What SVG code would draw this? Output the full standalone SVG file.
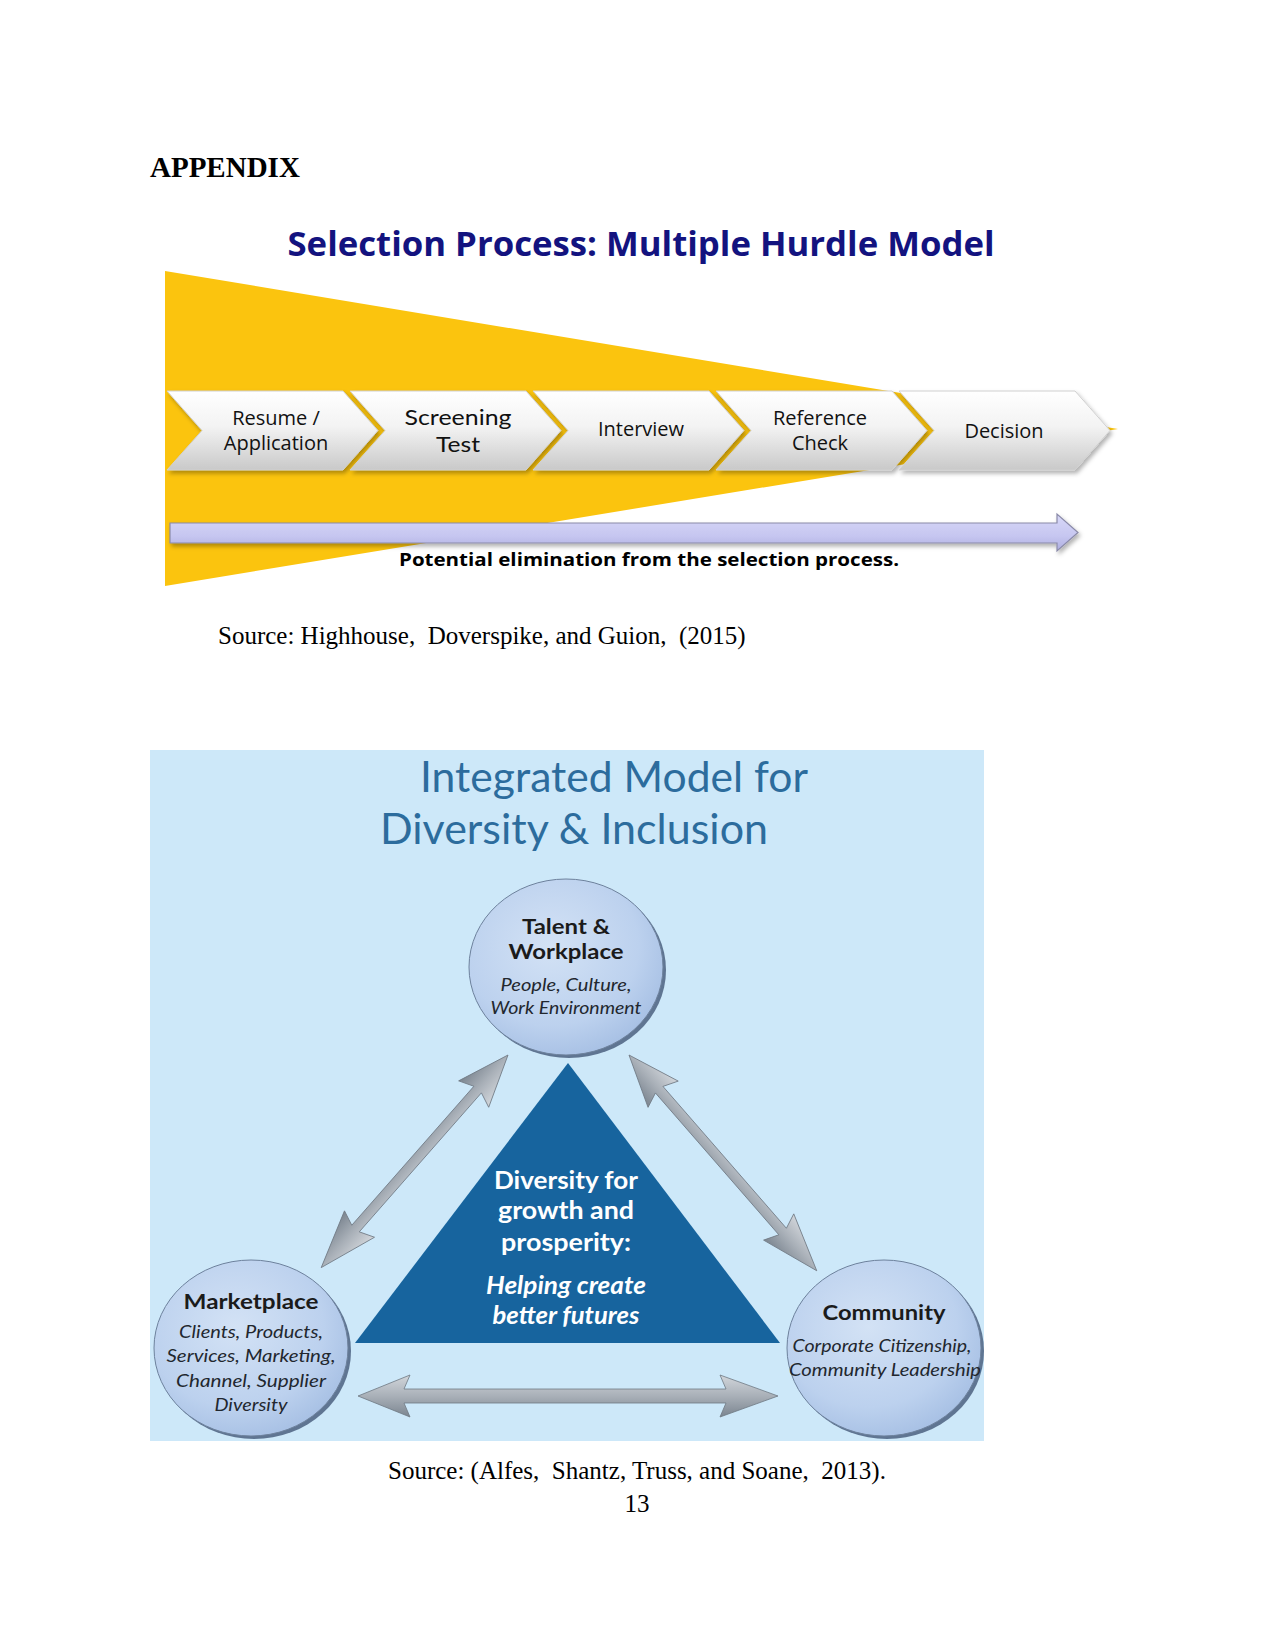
<svg xmlns="http://www.w3.org/2000/svg" xmlns:xlink="http://www.w3.org/1999/xlink" width="1275" height="1650" viewBox="0 0 1275 1650">
<style>
.serif{font-family:"Liberation Serif","Times New Roman",serif;fill:#000;}
.chev{font-family:"Open Sans","Liberation Sans",sans-serif;fill:#111;text-anchor:middle;}
.fig2{font-family:"Lato","Noto Sans",sans-serif;text-anchor:middle;}
.cb{font-weight:bold;fill:#1b1b1b;font-size:21px;}
.ci{font-style:italic;fill:#22272e;font-size:17px;}
.tw{font-weight:bold;fill:#ffffff;font-size:24px;}
</style>
<defs>
<linearGradient id="chevGrad" x1="0" y1="0" x2="0" y2="1">
<stop offset="0" stop-color="#ffffff"/>
<stop offset="0.45" stop-color="#f3f3f3"/>
<stop offset="1" stop-color="#c9c9c9"/>
</linearGradient>
<linearGradient id="purpGrad" x1="0" y1="0" x2="0" y2="1">
<stop offset="0" stop-color="#d8d8f8"/>
<stop offset="0.6" stop-color="#c6c6f0"/>
<stop offset="1" stop-color="#aeaee0"/>
</linearGradient>
<linearGradient id="arrGrad" x1="0" y1="0" x2="0" y2="1">
<stop offset="0" stop-color="#d2d6db"/>
<stop offset="0.5" stop-color="#a9b0b8"/>
<stop offset="1" stop-color="#7b8590"/>
</linearGradient>
<radialGradient id="circGrad" cx="0.42" cy="0.38" r="0.65">
<stop offset="0" stop-color="#d3e2f5"/>
<stop offset="0.7" stop-color="#bcd1ee"/>
<stop offset="1" stop-color="#a7c0e4"/>
</radialGradient>
<filter id="shadow" x="-10%" y="-10%" width="130%" height="140%">
<feDropShadow dx="2" dy="3" stdDeviation="2" flood-color="#000" flood-opacity="0.3"/>
</filter>
<polygon id="chevShape" points="0,391 176,391 211,430.5 176,470 0,470 35,430.5"/>
<clipPath id="fig2clip"><rect x="150" y="750" width="834" height="691"/></clipPath>
</defs>

<rect x="0" y="0" width="1275" height="1650" fill="#ffffff"/>

<text class="serif" x="150" y="177" font-size="29" font-weight="bold">APPENDIX</text>

<!-- Figure 1 -->
<g id="figure1">
<polygon id="funnel" points="165,271 1118,429 165,586" fill="#fbc40e"/>
<text id="title1" x="641" y="256" text-anchor="middle" font-family="Open Sans, Liberation Sans, sans-serif" font-weight="bold" font-size="34" fill="#13137f" textLength="707" lengthAdjust="spacingAndGlyphs">Selection Process: Multiple Hurdle Model</text>

<g id="chev-resume" transform="translate(167,0)">
<use xlink:href="#chevShape" fill="url(#chevGrad)" stroke="#d0d0d0" stroke-width="1" filter="url(#shadow)"/>
</g>
<text class="chev" x="276" y="425" font-size="20">Resume /</text>
<text class="chev" x="276" y="450" font-size="20">Application</text>

<g id="chev-screening" transform="translate(350,0)">
<use xlink:href="#chevShape" fill="url(#chevGrad)" stroke="#d0d0d0" stroke-width="1" filter="url(#shadow)"/>
</g>
<text x="458" y="425" font-family="Lato, Open Sans, sans-serif" font-size="22" fill="#111" text-anchor="middle" textLength="107" lengthAdjust="spacingAndGlyphs">Screening</text>
<text x="458" y="452" font-family="Lato, Open Sans, sans-serif" font-size="22" fill="#111" text-anchor="middle" textLength="44" lengthAdjust="spacingAndGlyphs">Test</text>

<g id="chev-interview" transform="translate(533,0)">
<use xlink:href="#chevShape" fill="url(#chevGrad)" stroke="#d0d0d0" stroke-width="1" filter="url(#shadow)"/>
</g>
<text class="chev" x="641" y="436" font-size="20">Interview</text>

<g id="chev-reference" transform="translate(716,0)">
<use xlink:href="#chevShape" fill="url(#chevGrad)" stroke="#d0d0d0" stroke-width="1" filter="url(#shadow)"/>
</g>
<text class="chev" x="820" y="425" font-size="20">Reference</text>
<text class="chev" x="820" y="450" font-size="20">Check</text>

<g id="chev-decision" transform="translate(899,0)">
<use xlink:href="#chevShape" fill="url(#chevGrad)" stroke="#d0d0d0" stroke-width="1" filter="url(#shadow)"/>
</g>
<text class="chev" x="1004" y="438" font-size="20">Decision</text>

<g id="elim-arrow">
<polygon points="170,523 1057,523 1057,514 1078,532.5 1057,551 1057,543 170,543" fill="url(#purpGrad)" stroke="#8a8aa8" stroke-width="1.2" filter="url(#shadow)"/>
</g>
<text x="649" y="566" text-anchor="middle" font-family="Open Sans, Liberation Sans, sans-serif" font-weight="bold" font-size="17" fill="#000" textLength="500" lengthAdjust="spacingAndGlyphs">Potential elimination from the selection process.</text>
</g>

<text class="serif" x="218" y="644" font-size="25" xml:space="preserve">Source: Highhouse,  Doverspike, and Guion,  (2015)</text>

<!-- Figure 2 -->
<g id="figure2" clip-path="url(#fig2clip)">
<rect x="150" y="750" width="834" height="691" fill="#cde8f9"/>
<text x="614" y="792" font-family="Lato, Noto Sans, sans-serif" text-anchor="middle" font-size="43" fill="#2c6c9d" textLength="388" lengthAdjust="spacingAndGlyphs">Integrated Model for</text>
<text x="574" y="844" font-family="Lato, Noto Sans, sans-serif" text-anchor="middle" font-size="43" fill="#2c6c9d" textLength="388" lengthAdjust="spacingAndGlyphs">Diversity &amp; Inclusion</text>

<g id="connectors">
<g transform="translate(508,1055) rotate(131.3)">
<polygon points="0,0 52,-20 46,-5 231,-5 225,-20 283,0 225,20 231,5 46,5 52,20" fill="url(#arrGrad)" stroke="#6f7883" stroke-width="0.8"/>
</g>
<g transform="translate(629,1055) rotate(48.97)">
<polygon points="0,0 52,-20 46,-5 234,-5 228,-20 286,0 228,20 234,5 46,5 52,20" fill="url(#arrGrad)" stroke="#6f7883" stroke-width="0.8"/>
</g>
<g transform="translate(358,1396)">
<polygon points="0,0 52,-21 46,-7 368,-7 362,-21 420,0 362,21 368,7 46,7 52,21" fill="url(#arrGrad)" stroke="#6f7883" stroke-width="0.8"/>
</g>
</g>

<g id="center-triangle">
<polygon points="568,1063 355,1343 780,1343" fill="#17649e"/>
<text class="fig2 tw" x="566" y="1189" textLength="144" lengthAdjust="spacingAndGlyphs">Diversity for</text>
<text class="fig2 tw" x="566" y="1219" textLength="136" lengthAdjust="spacingAndGlyphs">growth and</text>
<text class="fig2 tw" x="566" y="1251" textLength="130" lengthAdjust="spacingAndGlyphs">prosperity:</text>
<text class="fig2 tw" x="566" y="1294" font-style="italic" textLength="160" lengthAdjust="spacingAndGlyphs">Helping create</text>
<text class="fig2 tw" x="566" y="1324" font-style="italic" textLength="147" lengthAdjust="spacingAndGlyphs">better futures</text>
</g>

<g id="node-talent">
<ellipse cx="569" cy="970" rx="97" ry="88" fill="#5f7592"/>
<ellipse cx="566" cy="967" rx="97" ry="88" fill="url(#circGrad)" stroke="#6d819c" stroke-width="1"/>
<text class="fig2 cb" x="566" y="934" textLength="88" lengthAdjust="spacingAndGlyphs">Talent &amp;</text>
<text class="fig2 cb" x="566" y="959" textLength="115" lengthAdjust="spacingAndGlyphs">Workplace</text>
<text class="fig2 ci" x="566" y="991" textLength="131" lengthAdjust="spacingAndGlyphs">People, Culture,</text>
<text class="fig2 ci" x="566" y="1014" textLength="151" lengthAdjust="spacingAndGlyphs">Work Environment</text>
</g>

<g id="node-marketplace">
<ellipse cx="254" cy="1351" rx="97" ry="88" fill="#5f7592"/>
<ellipse cx="251" cy="1348" rx="97" ry="88" fill="url(#circGrad)" stroke="#6d819c" stroke-width="1"/>
<text class="fig2 cb" x="251" y="1309" textLength="135" lengthAdjust="spacingAndGlyphs">Marketplace</text>
<text class="fig2 ci" x="251" y="1338" textLength="144" lengthAdjust="spacingAndGlyphs">Clients, Products,</text>
<text class="fig2 ci" x="251" y="1362" textLength="169" lengthAdjust="spacingAndGlyphs">Services, Marketing,</text>
<text class="fig2 ci" x="251" y="1387" textLength="150" lengthAdjust="spacingAndGlyphs">Channel, Supplier</text>
<text class="fig2 ci" x="251" y="1411" textLength="73" lengthAdjust="spacingAndGlyphs">Diversity</text>
</g>

<g id="node-community">
<ellipse cx="887" cy="1351" rx="97" ry="88" fill="#5f7592"/>
<ellipse cx="884" cy="1348" rx="97" ry="88" fill="url(#circGrad)" stroke="#6d819c" stroke-width="1"/>
<text class="fig2 cb" x="884" y="1320" textLength="123" lengthAdjust="spacingAndGlyphs">Community</text>
<text class="fig2 ci" x="882" y="1352" textLength="179" lengthAdjust="spacingAndGlyphs">Corporate Citizenship,</text>
<text class="fig2 ci" x="885" y="1376" textLength="192" lengthAdjust="spacingAndGlyphs">Community Leadership</text>
</g>
</g>

<text class="serif" x="388" y="1479" font-size="25" xml:space="preserve">Source: (Alfes,  Shantz, Truss, and Soane,  2013).</text>
<text class="serif" x="637" y="1512" font-size="25" text-anchor="middle">13</text>
</svg>
